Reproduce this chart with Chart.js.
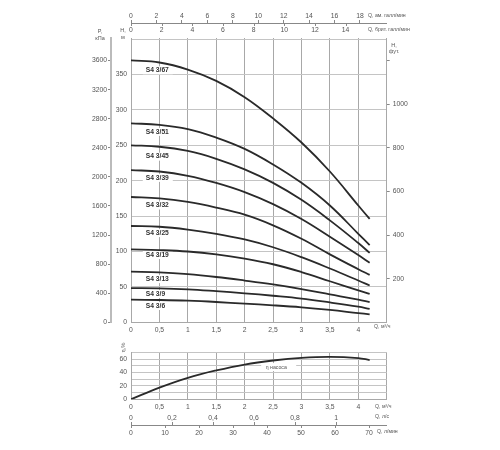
<!DOCTYPE html>
<html>
<head>
<meta charset="utf-8">
<script src="https://cdn.jsdelivr.net/npm/chart.js@4/dist/chart.umd.min.js"></script>
<style>
  body { margin: 0; background: #fff; }
  canvas { position: absolute; left: 0; }
  #main-chart { top: 0; }
  #eff-chart { top: 340px; }
</style>
</head>
<body>
<canvas id="main-chart" width="500" height="340"></canvas>
<canvas id="eff-chart" width="500" height="110"></canvas>
<script>
// Vazão em m3/h, comum a todas as curvas
const flow = [0, 0.5, 1, 1.5, 2, 2.5, 3, 3.5, 4, 4.2];

// Altura em metros
const head67 = [370, 367, 357, 341, 318, 288, 254, 213, 165, 146];
const head51 = [281, 279, 273, 261, 245, 223, 197, 165, 125, 109];
const head45 = [250, 248, 242, 231, 216, 197, 173, 144, 112, 98];
const head39 = [215, 213, 207, 197, 184, 167, 146, 121, 95, 84];
const head32 = [177, 175, 170, 162, 152, 137, 118, 96, 75, 67];
const head25 = [136, 135, 131, 125, 117, 106, 92, 76, 59, 52];
const head19 = [103, 102, 100, 96, 90, 82, 71, 58, 45, 40];
const head13 = [71.5, 70.6, 68, 64, 59, 53.5, 47, 39.5, 32, 28.5];
const head9 = [48.4, 48, 46.6, 44, 41, 37.5, 33.5, 28, 22, 19];
const head6 = [32, 31.5, 30.5, 28.7, 26.3, 24, 21.2, 17.5, 13, 11.3];
const headSeries = [head67, head51, head45, head39, head32, head25, head19, head13, head9, head6];

const curveNames = ['S4 3/67', 'S4 3/51', 'S4 3/45', 'S4 3/39', 'S4 3/32', 'S4 3/25', 'S4 3/19', 'S4 3/13', 'S4 3/9', 'S4 3/6'];
const curveNameHeads = [356, 269, 234, 204, 165, 126, 95, 61, 40, 23];

// Rendimento em %
const efficiency = [0, 17.4, 32, 43, 51.8, 57.8, 61.8, 63.3, 61.4, 58.4];

// Marcas dos eixos
const flowTicks = [0, 0.5, 1, 1.5, 2, 2.5, 3, 3.5, 4, 4.5];
const usGalTicks = [0, 2, 4, 6, 8, 10, 12, 14, 16, 18];
const ukGalTicks = [0, 2, 4, 6, 8, 10, 12, 14];
const headMTicks = [0, 50, 100, 150, 200, 250, 300, 350, 400];
const pressureTicks = [0, 400, 800, 1200, 1600, 2000, 2400, 2800, 3200, 3600];
const headFtTicks = [200, 400, 600, 800, 1000, 1200];
const effTicks = [0, 10, 20, 30, 40, 50, 60, 70];
const lsTicks = [0, 0.2, 0.4, 0.6, 0.8, 1];
const lminTicks = [0, 10, 20, 30, 40, 50, 60, 70];

const TEXT = '#555';
const FONT = 'Liberation Sans';
const tickFont = { family: FONT, size: 6.8 };

const comma = v => String(v).replace('.', ',');

function setTicks(list) {
    return scale => { scale.ticks = list.map(v => ({ value: v })); };
}

// Eixo sem grade, só com marcas e números
function plainAxis(position, min, max, list, size, opts) {
    const horizontal = position === 'top' || position === 'bottom';
    const o = opts || {};
    return {
        type: 'linear',
        position: position,
        min: min,
        max: max,
        weight: o.weight || 0,
        afterBuildTicks: setTicks(list),
        afterFit: s => { if (horizontal) s.height = size; else s.width = size; },
        grid: { drawOnChartArea: false, drawTicks: o.tick !== 0, tickLength: o.tick || 0, tickColor: '#888', tickWidth: 1 },
        border: { display: o.border !== false, color: o.borderColor || '#888', width: o.borderWidth || 1 },
        ticks: {
            autoSkip: false, maxRotation: 0, minRotation: 0, padding: o.padding || 0,
            color: TEXT, font: tickFont,
            callback: o.callback || (v => comma(v))
        }
    };
}

// Marcas curtas do outro lado da linha do eixo
function extraTicks(scaleId, list, y0, y1) {
    return chart => {
        const ctx = chart.ctx, scale = chart.scales[scaleId];
        ctx.save();
        ctx.strokeStyle = '#888';
        list.forEach(v => {
            const x = Math.round(scale.getPixelForValue(v)) + 0.5;
            ctx.beginPath();
            ctx.moveTo(x, y0);
            ctx.lineTo(x, y1);
            ctx.stroke();
        });
        ctx.restore();
    };
}

function putText(ctx, text, x, y, size, align) {
    ctx.font = size + 'px "' + FONT + '"';
    ctx.fillStyle = TEXT;
    ctx.textAlign = align || 'left';
    ctx.textBaseline = 'middle';
    ctx.fillText(text, x, y);
}

const curveLabels = {
    id: 'curveLabels',
    beforeDatasetsDraw(chart) {
        const ctx = chart.ctx, sx = chart.scales.x, sy = chart.scales.y;
        ctx.save();
        curveNames.forEach((name, i) => {
            const x = sx.getPixelForValue(0.26);
            const y = sy.getPixelForValue(curveNameHeads[i]);
            ctx.fillStyle = '#fff';
            ctx.fillRect(x - 3, y - 4, 30, 8);
            ctx.font = 'bold 6.7px "' + FONT + '"';
            ctx.fillStyle = '#333';
            ctx.textAlign = 'left';
            ctx.textBaseline = 'middle';
            ctx.fillText(name, x, y);
        });
        ctx.restore();
    }
};

const mainTexts = {
    id: 'mainTexts',
    afterDraw(chart) {
        const ctx = chart.ctx;
        extraTicks('ukGal', ukGalTicks, 23, 26)(chart);
        ctx.save();
        putText(ctx, 'P,', 100, 31, 5.5, 'center');
        putText(ctx, 'кПа', 100, 38, 5.5, 'center');
        putText(ctx, 'H,', 123, 30, 5.5, 'center');
        putText(ctx, 'м', 123, 37, 5.5, 'center');
        putText(ctx, 'H,', 394, 45, 5.5, 'center');
        putText(ctx, 'фут.', 394, 51, 5.5, 'center');
        putText(ctx, 'Q, ам. галл/мин', 368, 16, 5.2);
        putText(ctx, 'Q, брит. галл/мин', 368, 30, 5.2);
        putText(ctx, 'Q, м³/ч', 374, 327, 5.2);
        ctx.restore();
    }
};

new Chart(document.getElementById('main-chart'), {
    type: 'line',
    data: {
        datasets: headSeries.map(values => ({
            data: values.map((v, i) => ({ x: flow[i], y: v })),
            borderColor: '#2a2a2a',
            borderWidth: 1.8,
            pointRadius: 0,
            tension: 0.4,
            xAxisID: 'x',
            yAxisID: 'y'
        }))
    },
    options: {
        responsive: false,
        animation: false,
        events: [],
        layout: { padding: 0 },
        plugins: { legend: { display: false }, tooltip: { enabled: false } },
        scales: {
            x: {
                type: 'linear', position: 'bottom', min: 0, max: 4.5,
                afterBuildTicks: setTicks(flowTicks),
                afterFit: s => { s.height = 17.7; },
                grid: { color: '#a8a8a8', drawTicks: false },
                border: { color: '#a8a8a8' },
                ticks: {
                    autoSkip: false, maxRotation: 0, padding: 4, color: TEXT, font: tickFont,
                    callback: v => (v === 4.5 ? '' : comma(v))
                }
            },
            y: {
                type: 'linear', position: 'left', min: 0, max: 401.6, weight: 1,
                afterBuildTicks: setTicks(headMTicks),
                afterFit: s => { s.width = 20; },
                grid: { color: '#c4c4c4', drawTicks: false },
                border: { color: '#a8a8a8' },
                ticks: {
                    autoSkip: false, padding: 4, color: TEXT, font: tickFont,
                    callback: v => (v === 400 ? '' : v)
                }
            },
            pressure: plainAxis('left', 0, 3911, pressureTicks, 111, {
                weight: 2, tick: 3, padding: 1, borderColor: '#bbb', borderWidth: 2, callback: v => v
            }),
            headFt: plainAxis('right', 0, 1304, headFtTicks, 113.3, {
                tick: 3, padding: 3, borderColor: '#a8a8a8', callback: v => (v === 1200 ? '' : v)
            }),
            usGal: plainAxis('top', 0, 20.1, usGalTicks, 23, { weight: 2, tick: 3 }),
            ukGal: plainAxis('top', 0, 16.68, ukGalTicks, 15, { weight: 1, tick: 0, padding: 4, border: false })
        }
    },
    plugins: [curveLabels, mainTexts]
});

const effLabel = {
    id: 'effLabel',
    beforeDatasetsDraw(chart) {
        const ctx = chart.ctx;
        const x = chart.scales.x.getPixelForValue(2.3);
        const y = chart.scales.y.getPixelForValue(48);
        ctx.save();
        ctx.fillStyle = '#fff';
        ctx.fillRect(x - 0.5, y - 4, 35, 8);
        putText(ctx, 'η насоса', x + 4, y, 5.2);
        ctx.restore();
    }
};

const effTexts = {
    id: 'effTexts',
    afterDraw(chart) {
        const ctx = chart.ctx;
        extraTicks('ls', lsTicks, 82, 85)(chart);
        ctx.save();
        putText(ctx, 'Q, м³/ч', 375, 66.7, 5.2);
        putText(ctx, 'Q, л/с', 375, 76.7, 5.2);
        putText(ctx, 'Q, л/мин', 377, 91.7, 5.2);
        ctx.translate(123, 7.5);
        ctx.rotate(-Math.PI / 2);
        putText(ctx, 'η,%', 0, 0, 5.8, 'center');
        ctx.restore();
    }
};

new Chart(document.getElementById('eff-chart'), {
    type: 'line',
    data: {
        datasets: [{
            data: efficiency.map((v, i) => ({ x: flow[i], y: v })),
            borderColor: '#2a2a2a',
            borderWidth: 1.8,
            pointRadius: 0,
            tension: 0.4,
            xAxisID: 'x',
            yAxisID: 'y'
        }]
    },
    options: {
        responsive: false,
        animation: false,
        events: [],
        layout: { padding: { top: 12.3, right: 113.3 } },
        plugins: { legend: { display: false }, tooltip: { enabled: false } },
        scales: {
            x: {
                type: 'linear', position: 'bottom', min: 0, max: 4.5, weight: 1,
                afterBuildTicks: setTicks(flowTicks),
                afterFit: s => { s.height = 13; },
                grid: { color: '#a8a8a8', drawTicks: false },
                border: { color: '#a8a8a8' },
                ticks: {
                    autoSkip: false, maxRotation: 0, padding: 4, color: TEXT, font: tickFont,
                    callback: v => (v === 4.5 ? '' : comma(v))
                }
            },
            y: {
                type: 'linear', position: 'left', min: 0, max: 70,
                afterBuildTicks: setTicks(effTicks),
                afterFit: s => { s.width = 131; },
                grid: { color: '#c4c4c4', drawTicks: false },
                border: { color: '#a8a8a8' },
                ticks: {
                    autoSkip: false, padding: 4, color: TEXT, font: tickFont,
                    callback: v => (v % 20 === 0 ? v : '')
                }
            },
            ls: plainAxis('bottom', 0, 1.247, lsTicks, 12.7, { weight: 2, tick: 0, padding: 2, border: false }),
            lmin: plainAxis('bottom', 0, 75.2, lminTicks, 25, { weight: 3, tick: 3, padding: 1 })
        }
    },
    plugins: [effLabel, effTexts]
});
</script>
</body>
</html>
